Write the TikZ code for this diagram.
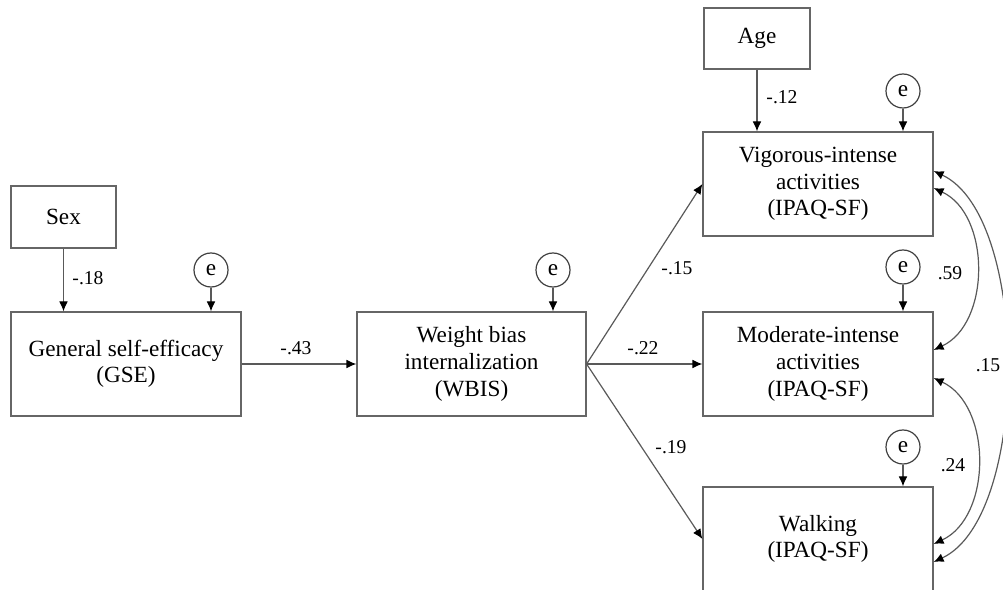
\documentclass[tikz,border=0pt]{standalone}
\usepackage{fontspec}
\setmainfont{Liberation Serif}
\usetikzlibrary{arrows.meta}
\tikzstyle{var}=[rectangle, draw=black!60, line width=0.6pt, align=center, inner sep=0pt, font=\fontsize{11.6}{13.3}\selectfont]
\tikzstyle{err}=[circle, draw=black!75, line width=0.6pt, minimum size=17pt, inner sep=0pt, font=\fontsize{11.6}{13.3}\selectfont]
\tikzstyle{coef}=[inner sep=0pt, font=\fontsize{9.8}{11}\selectfont]
\tikzstyle{link}=[draw=black!65, line width=0.6pt, -{Latex[length=5pt,width=4.4pt,color=black]}]
\tikzstyle{cov}=[draw=black!65, line width=0.6pt, {Latex[length=5pt,width=4.4pt,color=black]}-{Latex[length=5pt,width=4.4pt,color=black]}]

\begin{document}
\begin{tikzpicture}[x=0.5pt, y=0.5pt]
    \useasboundingbox (0,0) rectangle (1003,590);
    \clip (0,0) rectangle (1003,590);
    % observed variables
    \node[var, minimum width=52.5pt, minimum height=31pt] (sex) at (63.5,373) {Sex};
    \node[var, minimum width=115pt, minimum height=52pt] (gse) at (126,226) {General self-efficacy\\(GSE)};
    \node[var, minimum width=114.5pt, minimum height=52pt] (wbis) at (471.5,226) {Weight bias\\internalization\\(WBIS)};
    \node[var, minimum width=53pt, minimum height=30.5pt] (age) at (757,551.5) {Age};
    \node[var, minimum width=115pt, minimum height=52pt] (vig) at (818,406) {Vigorous-intense\\activities\\(IPAQ-SF)};
    \node[var, minimum width=115pt, minimum height=52pt] (mod) at (818,226) {Moderate-intense\\activities\\(IPAQ-SF)};
    \node[var, minimum width=115pt, minimum height=52pt] (walk) at (818,51) {Walking\\(IPAQ-SF)};
    % error terms
    \node[err] (e1) at (211,320) {e};
    \node[err] (e2) at (553,320) {e};
    \node[err] (e3) at (903,499) {e};
    \node[err] (e4) at (903,323) {e};
    \node[err] (e5) at (903,143) {e};
    \draw[link] (e1)--(e1 |- gse.north);
    \draw[link] (e2)--(e2 |- wbis.north);
    \draw[link] (e3)--(e3 |- vig.north);
    \draw[link] (e4)--(e4 |- mod.north);
    \draw[link] (e5)--(e5 |- walk.north);
    % paths
    \draw[link] (sex.south)--(sex.south |- gse.north);
    \draw[link] (age.south)--(age.south |- vig.north);
    \draw[link] (gse.east)--(wbis.west);
    \draw[link] (wbis.east)--(vig.west);
    \draw[link] (wbis.east)--(mod.west);
    \draw[link] (wbis.east)--(walk.west);
    % covariances
    \draw[cov] ([yshift=-2pt]vig.east) to[out=-25, in=25] ([yshift=7pt]mod.east);
    \draw[cov] ([yshift=-7pt]mod.east) to[out=-25, in=25] ([yshift=-2.5pt]walk.east);
    \draw[cov] ([yshift=6.5pt]vig.east) to[out=-25, in=25, looseness=0.7] ([yshift=-11.5pt]walk.east);
    % coefficients
    \node[coef] (c1) at (88,312) {-.18};
    \node[coef] (c2) at (296,242) {-.43};
    \node[coef] (c3) at (782,493) {-.12};
    \node[coef] (c4) at (677,322) {-.15};
    \node[coef] (c5) at (643,242) {-.22};
    \node[coef] (c6) at (671,143) {-.19};
    \node[coef] (c7) at (950,317) {.59};
    \node[coef] (c8) at (988,225) {.15};
    \node[coef] (c9) at (953,125) {.24};
\end{tikzpicture}
\end{document}
